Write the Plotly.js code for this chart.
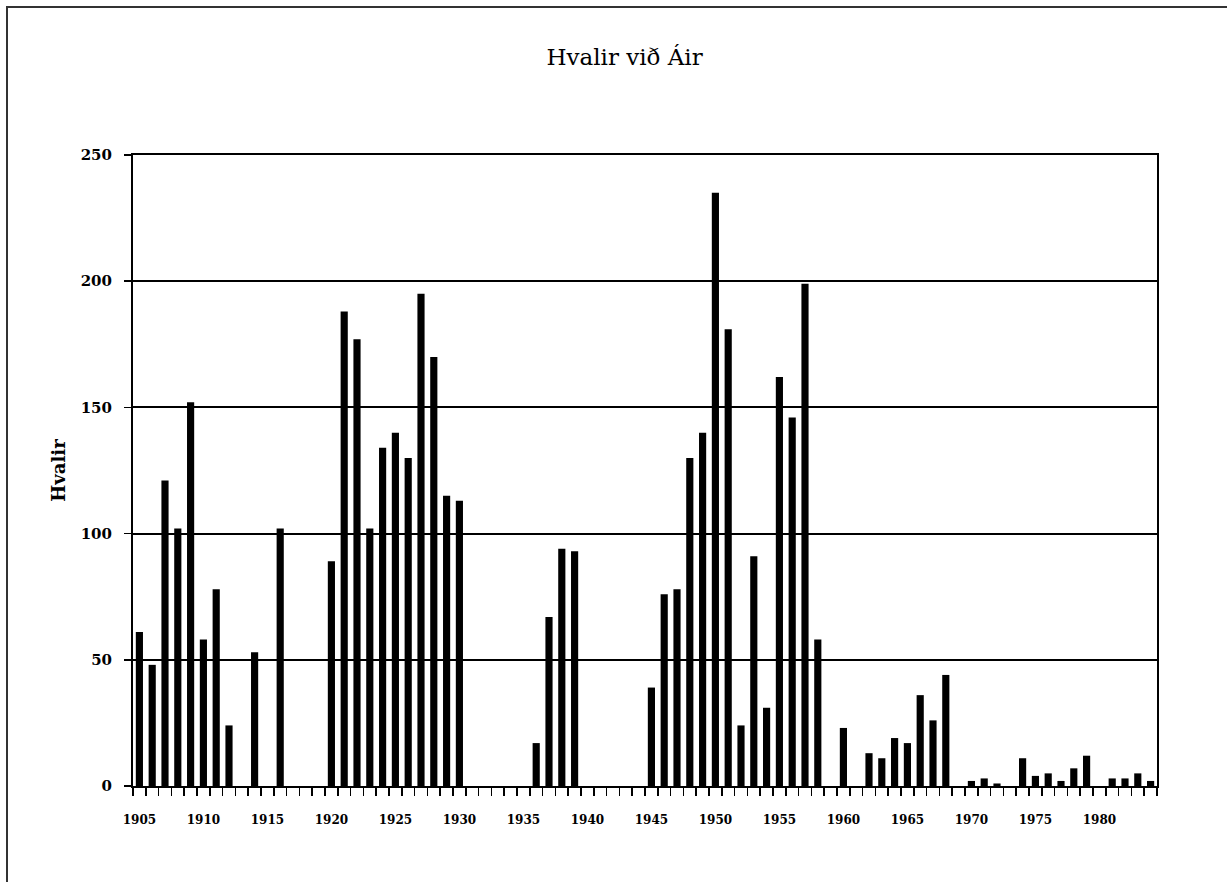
<!DOCTYPE html>
<html>
<head>
<meta charset="utf-8">
<script src="https://cdn.plot.ly/plotly-3.0.1.min.js"></script>
<style>
  html, body { margin: 0; padding: 0; background: #fff; overflow: hidden; }
  #chart { width: 1227px; height: 882px; }
  #frame { position: absolute; left: 6px; top: 6px; width: 1240px; height: 900px;
           border-left: 2px solid #333; border-top: 2px solid #333; pointer-events: none; }
</style>
</head>
<body>
<div id="chart"></div>
<div id="frame"></div>
<script>
// Data: number of whales per year
const years = [];
for (let y = 1905; y <= 1984; y++) years.push(y);

const whales = [
  61, 48, 121, 102, 152, 58, 78, 24, 0, 53,      // 1905-1914
  0, 102, 0, 0, 0, 89, 188, 177, 102, 134,       // 1915-1924
  140, 130, 195, 170, 115, 113, 0, 0, 0, 0,      // 1925-1934
  0, 17, 67, 94, 93, 0, 0, 0, 0, 0,              // 1935-1944
  39, 76, 78, 130, 140, 235, 181, 24, 91, 31,    // 1945-1954
  162, 146, 199, 58, 0, 23, 0, 13, 11, 19,       // 1955-1964
  17, 36, 26, 44, 0, 2, 3, 1, 0, 11,             // 1965-1974
  4, 5, 2, 7, 12, 0, 3, 3, 5, 2                  // 1975-1984
];

const labelYears = [1905, 1910, 1915, 1920, 1925, 1930, 1935, 1940, 1945, 1950, 1955, 1960, 1965, 1970, 1975, 1980];
const yTicks = [0, 50, 100, 150, 200, 250];

const chartTitle = 'Hvalir við Áir';
const yTitle = 'Hvalir';

const serif = '"DejaVu Serif", "Liberation Serif", serif';

const trace = {
  type: 'bar',
  x: years,
  y: whales,
  marker: { color: '#000000', line: { width: 0 } },
  hoverinfo: 'x+y'
};

const layout = {
  width: 1227,
  height: 882,
  paper_bgcolor: '#ffffff',
  plot_bgcolor: '#ffffff',
  margin: { l: 133, r: 70, t: 155, b: 96 },
  bargap: 0.44,
  showlegend: false,
  title: {
    text: chartTitle,
    font: { family: serif, size: 23, color: '#000' },
    xref: 'container', x: 0.509, xanchor: 'center',
    yref: 'container', y: 0.935, yanchor: 'middle'
  },
  xaxis: {
    type: 'linear',
    range: [1904.5, 1984.5],
    tickmode: 'array',
    tickvals: labelYears,
    ticktext: labelYears.map(String),
    ticks: '',
    ticklabelstandoff: 22,
    tickfont: { family: serif, size: 12, color: '#000', weight: 'bold' },
    minor: { tick0: 1904.5, dtick: 1, ticks: 'outside', ticklen: 8, tickwidth: 1.5, tickcolor: '#000', showgrid: false },
    showgrid: false,
    zeroline: false,
    showline: true, linecolor: '#000', linewidth: 2, mirror: true,
    fixedrange: true
  },
  yaxis: {
    range: [0, 250],
    tickmode: 'array',
    tickvals: yTicks,
    ticktext: yTicks.map(String),
    ticks: 'outside', ticklen: 7, tickwidth: 1.5, tickcolor: '#000',
    ticklabelstandoff: 9,
    tickfont: { family: serif, size: 15, color: '#000', weight: 'bold' },
    showgrid: true, gridcolor: '#000', gridwidth: 2,
    zeroline: false,
    showline: true, linecolor: '#000', linewidth: 2, mirror: true,
    title: { text: yTitle, font: { family: serif, size: 18, color: '#000', weight: 'bold' }, standoff: 10 },
    automargin: false,
    fixedrange: true
  }
};

Plotly.newPlot('chart', [trace], layout, { displayModeBar: false, staticPlot: true });
</script>
</body>
</html>
